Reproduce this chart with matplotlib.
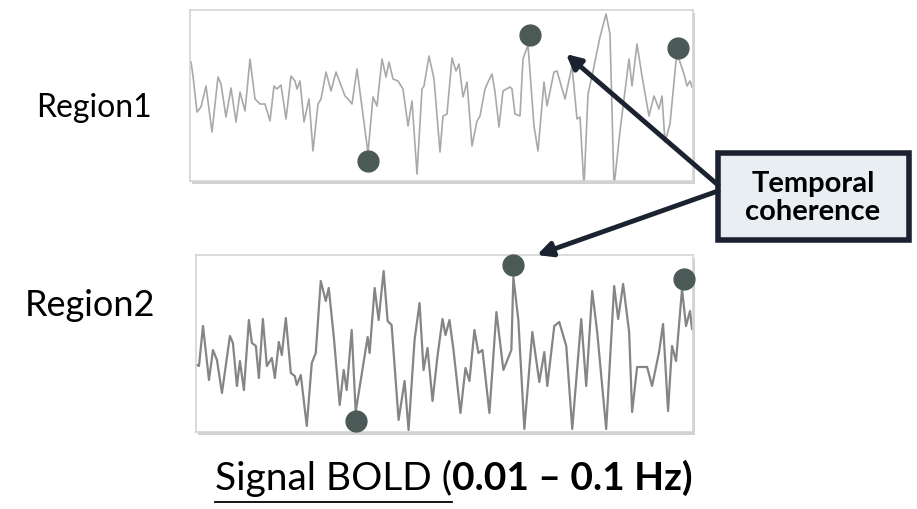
import matplotlib.pyplot as plt
from matplotlib.patches import Rectangle
from matplotlib.lines import Line2D

plt.rcParams['font.family'] = ['Lato', 'DejaVu Sans']

# Region1 BOLD trace (time index, amplitude)
r1_t = [1, 3, 7, 11, 16, 22, 28, 31, 36, 41, 46, 50, 55, 60, 65, 70, 75, 80, 84, 87,
        91, 96, 101, 105, 107, 110, 114, 119, 123, 128, 131, 136, 141, 146, 155, 158, 162, 167, 178, 183,
        187, 192, 196, 199, 203, 208, 213, 218, 222, 227, 232, 234, 239, 244, 250, 253, 257, 262, 266, 269,
        273, 277, 282, 287, 290, 295, 298, 302, 305, 309, 313, 320, 322, 325, 330, 333, 338, 344, 348, 354,
        357, 364, 367, 375, 382, 387, 390, 394, 398, 402, 410, 416, 420, 424, 430, 439, 442, 447, 452, 459,
        464, 469, 472, 475, 480, 486, 488, 494, 497, 500, 502]
r1_v = [33, 19, -17, -12, 9, -37, 18, 11, -22, 7, -27, 3, -16, 36, -4, -9, -9, -26, 9, 6,
        10, -24, 19, 14, 6, 14, -27, -4, -56, -9, -4, 23, 4, 23, -1, -4, -9, 26, -58, -2,
        -11, 36, 18, 33, 16, 14, 6, -31, -6, -79, 6, 9, 39, 16, -57, -21, -19, 37, 24, 31,
        -2, 13, -51, -26, -21, 6, 13, 21, 3, -32, 4, 8, 6, -19, -21, 36, 50, -31, -56, 13,
        -11, 23, 24, -4, 29, -24, -22, -92, 1, 19, 58, 81, 61, -92, -36, 36, 9, 51, 19, -21,
        -1, -14, -1, -47, -29, 34, 39, 21, 9, 14, 8]
r1_dot_t = [178, 340, 488]
r1_dot_v = [-66, 60, 47]

# Region2 BOLD trace
r2_t = [1, 3, 7, 13, 17, 21, 26, 34, 37, 41, 44, 48, 53, 56, 60, 63, 67, 71, 76, 79,
        83, 86, 90, 95, 99, 101, 105, 111, 116, 120, 125, 130, 133, 138, 144, 148, 151, 156, 160, 172,
        174, 179, 183, 188, 192, 196, 203, 209, 213, 219, 224, 228, 232, 237, 242, 247, 250, 254, 258, 265,
        270, 274, 279, 283, 287, 294, 301, 308, 316, 318, 323, 329, 337, 344, 349, 352, 359, 364, 371, 377,
        386, 391, 397, 402, 411, 419, 423, 428, 434, 437, 442, 452, 457, 464, 468, 473, 477, 481, 487, 491,
        495, 497]
r2_v = [-22, -23, 17, -37, -7, -17, -50, 7, 0, -43, -18, -47, 23, 0, -3, -35, 24, -23, -15, -35,
        1, -12, 25, -30, -33, -42, -32, -83, -20, -10, 62, 42, 55, 7, -62, -27, -47, 13, -69, 6,
        -10, 55, 23, 72, 22, 18, -77, -38, -87, 3, 40, -27, -5, -58, -13, 24, 8, 23, -7, -70,
        -25, -38, 13, -10, -7, -70, 31, -27, -7, 66, 23, -86, 11, -39, -9, -43, 17, 21, -3, -86,
        24, -43, 52, 11, -86, 57, 24, 59, 11, -69, -24, -24, -43, -9, 19, -68, -3, -18, 54, 17,
        32, 14]
r2_dot_t = [160, 318, 489]
r2_dot_v = [-78, 78, 64]

W, H = 917, 510
fig = plt.figure(figsize=(W / 100, H / 100), dpi=100)
fig.patch.set_facecolor('white')


def px_box(x0, y0, x1, y1):
    return [x0 / W, 1 - y1 / H, (x1 - x0) / W, (y1 - y0) / H]


def panel(box, t, v, dt, dv, ylim, line_color, lw):
    # soft shadow behind the panel
    x0, y0, x1, y1 = box
    fig.patches.append(Rectangle(((x0 + 2) / W, 1 - (y1 + 3) / H), (x1 - x0) / W, (y1 - y0) / H,
                                 transform=fig.transFigure, facecolor='#d2d2d2', edgecolor='none',
                                 zorder=-5))
    ax = fig.add_axes(px_box(*box), zorder=1)
    ax.set_facecolor('white')
    ax.plot(t, v, color=line_color, lw=lw, solid_joinstyle='round')
    ax.plot(dt, dv, 'o', ms=15, color='#4b5957', clip_on=False, zorder=5)
    ax.set_xlim(0, t[-1] + 1)
    ax.set_ylim(*ylim)
    ax.set_xticks([])
    ax.set_yticks([])
    for s in ax.spines.values():
        s.set_color('#d4d4d4')
        s.set_linewidth(1.2)
    return ax


panel((190, 11, 693, 182), r1_t, r1_v, r1_dot_t, r1_dot_v, (-86, 85), '#a9a9a9', 1.2)
panel((196, 256, 693, 433), r2_t, r2_v, r2_dot_t, r2_dot_v, (-89, 88), '#858585', 1.6)

fig.text(94 / W, 1 - 108 / H, 'Region1', fontsize=23, ha='center', va='center')
fig.text(90 / W, 1 - 306 / H, 'Region2', fontsize=26, ha='center', va='center')

# overlay in pixel space for the callout
ov = fig.add_axes([0, 0, 1, 1], zorder=10)
ov.set_xlim(0, W)
ov.set_ylim(H, 0)
ov.axis('off')

ov.add_patch(Rectangle((718, 154), 191, 87, facecolor='#e9eef2', edgecolor='#1b2130', lw=4))
ov.text(813, 198, 'Temporal\ncoherence', fontsize=21, fontweight='bold', ha='center', va='center',
        linespacing=1.1)
arrow = dict(arrowstyle='-|>', color='#1b2230', lw=3.5, mutation_scale=22, shrinkA=0, shrinkB=0)
ov.annotate('', xy=(566, 55), xytext=(718, 186), arrowprops=arrow)
ov.annotate('', xy=(537, 256), xytext=(718, 192), arrowprops=arrow)

# bottom caption: underlined regular part + bold part
t1 = fig.text(215 / W, 1 - 490 / H, 'Signal BOLD (', fontsize=28, ha='left', va='baseline')
fig.canvas.draw()
bb = t1.get_window_extent()
fig.text(bb.x1 / W, 1 - 490 / H, '0.01 – 0.1 Hz)', fontsize=28, fontweight='bold',
         ha='left', va='baseline')
fig.lines.append(Line2D([bb.x0 / W, bb.x1 / W], [(H - 503) / H, (H - 503) / H],
                        transform=fig.transFigure, color='black', lw=1.3))

fig.savefig('out.png', dpi=100)
